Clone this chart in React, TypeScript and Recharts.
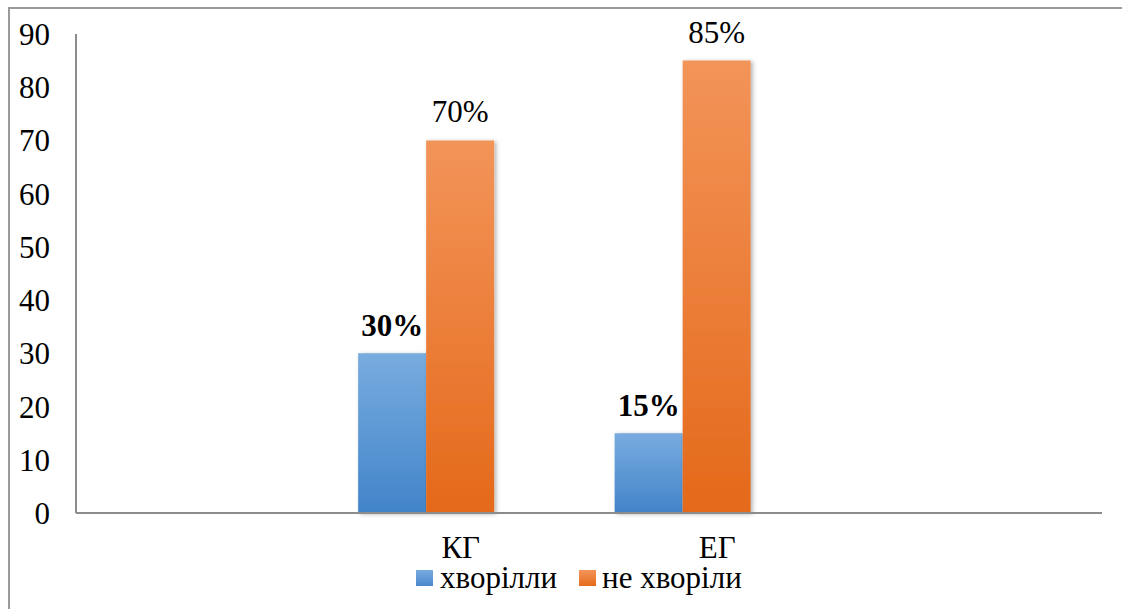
import React from "react";
import { BarChart, Bar, XAxis, YAxis, LabelList, Legend } from "recharts";

// Category slots along the x axis (outer slots stay empty)
const categories = ["", "КГ", "ЕГ", ""];
// Share of children who were ill, %
const sickValues: (number | null)[] = [null, 30, 15, null];
// Share of children who were not ill, %
const healthyValues: (number | null)[] = [null, 70, 85, null];
// Unused third slot in each group
const spareValues: (number | null)[] = [null, null, null, null];
const yTicks = [0, 10, 20, 30, 40, 50, 60, 70, 80, 90];

const seriesNames = { sick: "хворілли", healthy: "не хворіли" };

const data = categories.map((name, i) => ({
  name,
  sick: sickValues[i],
  healthy: healthyValues[i],
  spare: spareValues[i],
}));

const FONT = "Liberation Serif";
const FONT_SIZE = 31;
const AXIS_GRAY = "#8c8c8c";

const pct = (v: unknown) => (v == null ? "" : `${v}%`);

const LegendContent = () => (
  <div
    style={{
      display: "flex",
      alignItems: "center",
      paddingLeft: 416,
      fontFamily: FONT,
      fontSize: FONT_SIZE,
      color: "#000",
      lineHeight: "30px",
    }}
  >
    <span
      style={{
        display: "inline-block",
        width: 17,
        height: 16,
        background: "linear-gradient(#78acdf, #4a88cc)",
        marginRight: 7,
      }}
    />
    <span style={{ marginRight: 22 }}>{seriesNames.sick}</span>
    <span
      style={{
        display: "inline-block",
        width: 17,
        height: 16,
        background: "linear-gradient(#f39459, #e66c1d)",
        marginRight: 6,
      }}
    />
    <span>{seriesNames.healthy}</span>
  </div>
);

export default function App() {
  return (
    <div
      style={{
        position: "absolute",
        left: 0,
        top: 0,
        width: 1122,
        height: 609,
        overflow: "hidden",
        background: "#fff",
        fontFamily: FONT,
      }}
    >
      <div
        style={{
          position: "absolute",
          left: 8,
          top: 7,
          width: 1200,
          height: 700,
          borderLeft: "2px solid #9a9a9a",
          borderTop: "2px solid #9a9a9a",
        }}
      />
      <div style={{ position: "absolute", left: 0, top: 0 }}>
        <BarChart
          width={1122}
          height={609}
          data={data}
          margin={{ top: 34, right: 20, left: 0, bottom: 16 }}
          barCategoryGap="10%"
          barGap={0}
          style={{ fontFamily: FONT }}
        >
          <defs>
            <linearGradient id="gradBlue" x1="0" y1="0" x2="0" y2="1">
              <stop offset="0%" stopColor="#78acdf" />
              <stop offset="100%" stopColor="#4284c9" />
            </linearGradient>
            <linearGradient id="gradOrange" x1="0" y1="0" x2="0" y2="1">
              <stop offset="0%" stopColor="#f39459" />
              <stop offset="100%" stopColor="#e4691a" />
            </linearGradient>
            <filter id="barShadow" x="-20%" y="-10%" width="140%" height="120%">
              <feDropShadow dx="2" dy="1" stdDeviation="2" floodColor="#000" floodOpacity="0.3" />
            </filter>
          </defs>
          <XAxis
            dataKey="name"
            height={50}
            axisLine={{ stroke: AXIS_GRAY, strokeWidth: 2 }}
            tickLine={false}
            tickSize={0}
            tickMargin={23}
            tick={{ fill: "#000", fontFamily: FONT, fontSize: FONT_SIZE }}
            interval={0}
          />
          <YAxis
            width={76}
            domain={[0, 90]}
            ticks={yTicks}
            axisLine={{ stroke: AXIS_GRAY, strokeWidth: 2 }}
            tickLine={false}
            tickSize={0}
            tickMargin={26}
            tick={{ fill: "#000", fontFamily: FONT, fontSize: FONT_SIZE }}
          />
          <Legend verticalAlign="bottom" height={30} content={<LegendContent />} wrapperStyle={{ left: 0, width: 1122 }} />
          <Bar
            dataKey="sick"
            name={seriesNames.sick}
            fill="url(#gradBlue)"
            filter="url(#barShadow)"
            isAnimationActive={false}
          >
            <LabelList
              dataKey="sick"
              position="top"
              offset={17}
              formatter={pct}
              style={{ fill: "#000", fontFamily: FONT, fontSize: FONT_SIZE, fontWeight: "bold" }}
            />
          </Bar>
          <Bar
            dataKey="healthy"
            name={seriesNames.healthy}
            fill="url(#gradOrange)"
            filter="url(#barShadow)"
            isAnimationActive={false}
          >
            <LabelList
              dataKey="healthy"
              position="top"
              offset={18}
              formatter={pct}
              style={{ fill: "#000", fontFamily: FONT, fontSize: FONT_SIZE }}
            />
          </Bar>
          <Bar dataKey="spare" legendType="none" fill="none" isAnimationActive={false} />
        </BarChart>
      </div>
    </div>
  );
}
